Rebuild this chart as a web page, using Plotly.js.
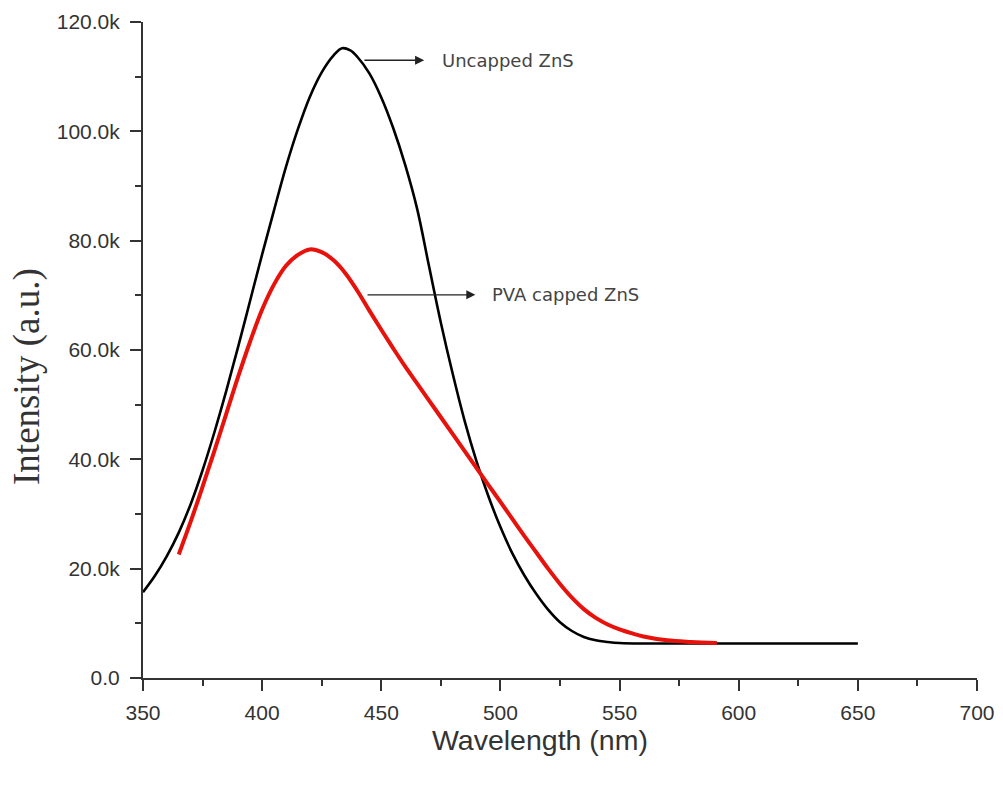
<!DOCTYPE html>
<html>
<head>
<meta charset="utf-8">
<script src="https://cdn.plot.ly/plotly-3.0.1.min.js"></script>
<style>html,body{margin:0;padding:0;background:#fff;}#chart{width:1003px;height:787px;}</style>
</head>
<body>
<div id="chart"></div>
<script>
// Uncapped ZnS (black)
const uncappedX = [350, 355, 360, 365, 370, 375, 380, 385, 390, 395, 400, 405, 410, 415, 420, 425, 430, 433.5, 437, 440, 445, 450, 455, 460, 465, 470, 475, 480, 485, 490, 495, 500, 505, 510, 515, 520, 525, 530, 535, 540, 545, 550, 560, 580, 620, 650];
const uncappedY = [15.7, 18.7, 22.3, 26.6, 31.8, 38.0, 45.0, 52.6, 60.7, 69.1, 77.5, 85.6, 93.5, 100.4, 106.3, 110.8, 113.9, 115.2, 114.8, 113.6, 110.6, 106.2, 100.6, 93.9, 85.9, 75.4, 65.0, 55.6, 47.0, 39.6, 33.2, 27.6, 22.8, 18.8, 15.4, 12.5, 10.2, 8.6, 7.5, 6.9, 6.6, 6.4, 6.3, 6.3, 6.3, 6.3];
// PVA capped ZnS (red)
const pvaX = [365, 370, 375, 380, 385, 390, 395, 400, 405, 410, 415, 420, 425, 430, 435, 440, 445, 450, 455, 460, 465, 470, 475, 480, 485, 490, 495, 500, 505, 510, 515, 520, 525, 530, 535, 540, 545, 550, 555, 560, 570, 580, 590.8];
const pvaY = [22.6, 28.6, 35.0, 41.6, 48.4, 55.2, 61.6, 67.4, 72.0, 75.4, 77.4, 78.4, 77.9, 76.4, 74.0, 70.8, 67.2, 63.7, 60.3, 57.0, 53.9, 50.8, 47.7, 44.6, 41.5, 38.4, 35.3, 32.2, 29.1, 26.0, 23.0, 20.0, 17.2, 14.7, 12.6, 11.0, 9.8, 8.9, 8.2, 7.6, 6.9, 6.6, 6.4];

const xTickVals = [350, 400, 450, 500, 550, 600, 650, 700];
const yTickVals = [0, 20, 40, 60, 80, 100, 120];
const yTickText = ['0.0', '20.0k', '40.0k', '60.0k', '80.0k', '100.0k', '120.0k'];

const labels = [
  {text: 'Uncapped ZnS', tailX: 442.3, headX: 468.0, y: 113.0, textX: 474.6},
  {text: 'PVA capped ZnS', tailX: 443.6, headX: 489.5, y: 70.1, textX: 495.6}
];

const traces = [
  {x: uncappedX, y: uncappedY, mode: 'lines', line: {color: '#000000', width: 2.6, shape: 'spline', smoothing: 1}, hoverinfo: 'skip', name: 'Uncapped ZnS'},
  {x: pvaX, y: pvaY, mode: 'lines', line: {color: '#e8120c', width: 4, shape: 'spline', smoothing: 1}, hoverinfo: 'skip', name: 'PVA capped ZnS'}
];

const annotations = [];
labels.forEach(l => {
  annotations.push({
    x: l.headX, y: l.y, ax: l.tailX, ay: l.y, xref: 'x', yref: 'y', axref: 'x', ayref: 'y',
    showarrow: true, arrowhead: 2, arrowsize: 1.4, arrowwidth: 1.3, arrowcolor: '#222', text: ''
  });
  annotations.push({
    x: l.textX, y: l.y, xref: 'x', yref: 'y', text: l.text, showarrow: false,
    xanchor: 'left', yanchor: 'middle', font: {family: 'DejaVu Sans', size: 18, color: '#444'}
  });
});
// axis titles (placed as annotations to match the original positions)
annotations.push({
  xref: 'paper', yref: 'paper', x: 0.476, y: -0.095, xanchor: 'center', yanchor: 'middle',
  text: 'Wavelength (nm)', showarrow: false,
  font: {family: 'Liberation Sans, Arial', size: 28.5, color: '#333'}
});
annotations.push({
  xref: 'paper', yref: 'paper', x: -0.139, y: 0.459, xanchor: 'center', yanchor: 'middle',
  text: 'Intensity (a.u.)', textangle: -90, showarrow: false,
  font: {family: 'Liberation Serif, Times New Roman', size: 37, color: '#333'}
});

const tickFont = {family: 'Liberation Sans, Arial', size: 21, color: '#333'};

const layout = {
  width: 1003, height: 787,
  margin: {l: 143, r: 26, t: 22, b: 109},
  paper_bgcolor: '#fff', plot_bgcolor: '#fff',
  showlegend: false,
  xaxis: {
    range: [350, 700], tickvals: xTickVals, ticks: 'outside', ticklen: 11, tickwidth: 2, tickcolor: '#333',
    showline: true, linecolor: '#333', linewidth: 2, showgrid: false, zeroline: false,
    tickfont: tickFont, ticklabelstandoff: 4,
    minor: {dtick: 25, tick0: 350, ticks: 'outside', ticklen: 6, tickwidth: 2, tickcolor: '#333', showgrid: false}
  },
  yaxis: {
    range: [0, 120], tickvals: yTickVals, ticktext: yTickText, ticks: 'outside', ticklen: 11, tickwidth: 2, tickcolor: '#333',
    showline: true, linecolor: '#333', linewidth: 2, showgrid: false, zeroline: false,
    tickfont: tickFont, ticklabelstandoff: 6,
    minor: {dtick: 10, tick0: 0, ticks: 'outside', ticklen: 6, tickwidth: 2, tickcolor: '#333', showgrid: false}
  },
  annotations: annotations
};

Plotly.newPlot('chart', traces, layout, {displayModeBar: false, staticPlot: true});
</script>
</body>
</html>
